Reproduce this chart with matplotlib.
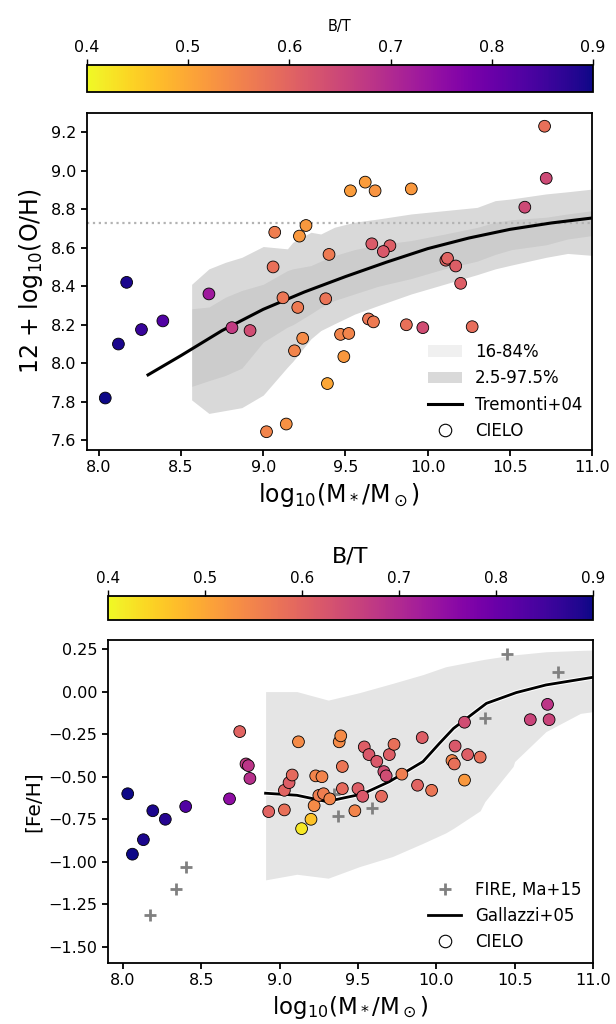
import numpy as np
import matplotlib
matplotlib.use('Agg')
import matplotlib.pyplot as plt
from matplotlib.lines import Line2D
from matplotlib.patches import Patch
import matplotlib.colors as mcolors

# ---- top panel: gas-phase oxygen abundance ----
oh_mass = [10.71, 10.72, 10.59, 9.62, 9.53, 9.68, 9.90, 9.26, 9.07, 9.22,
           9.66, 9.77, 9.73, 9.40, 10.11, 10.12, 10.17, 10.20, 9.06, 8.17,
           8.67, 9.12, 9.38, 9.21, 8.39, 8.26, 8.81, 8.92, 9.64, 9.67,
           9.87, 9.97, 10.27, 9.47, 9.52, 9.24, 8.12, 9.19, 9.49, 9.39,
           8.04, 9.14, 9.02]
oh_val = [9.23, 8.96, 8.81, 8.94, 8.895, 8.895, 8.905, 8.715, 8.68, 8.66,
          8.62, 8.61, 8.58, 8.565, 8.535, 8.545, 8.505, 8.415, 8.50, 8.42,
          8.36, 8.34, 8.335, 8.29, 8.22, 8.175, 8.185, 8.17, 8.23, 8.215,
          8.20, 8.185, 8.19, 8.15, 8.155, 8.13, 8.10, 8.065, 8.035, 7.895,
          7.82, 7.685, 7.645]
oh_bt = [0.58, 0.645, 0.645, 0.515, 0.515, 0.525, 0.52, 0.52, 0.56, 0.52,
         0.615, 0.61, 0.62, 0.565, 0.6, 0.6, 0.61, 0.61, 0.58, 0.89,
         0.73, 0.57, 0.575, 0.565, 0.83, 0.86, 0.67, 0.64, 0.57, 0.565,
         0.58, 0.64, 0.585, 0.55, 0.55, 0.54, 0.89, 0.55, 0.52, 0.50,
         0.9, 0.53, 0.55]

# Tremonti+04 relation
trem_mass = [8.3, 8.5, 8.75, 9.0, 9.25, 9.5, 9.75, 10.0, 10.25, 10.5, 10.75, 11.0]
trem_oh = [7.94, 8.04, 8.17, 8.28, 8.37, 8.45, 8.525, 8.595, 8.65, 8.695, 8.728, 8.754]

# SDSS percentile bands
band_mass = [8.565, 8.67, 8.77, 8.87, 9.0, 9.147, 9.18, 9.29, 9.35, 9.433,
             9.555, 9.7, 9.9, 10.1, 10.3, 10.41, 10.51, 10.72, 10.85, 11.0]
p025 = [7.81, 7.74, 7.755, 7.77, 7.835, 7.98, 8.01, 8.127, 8.17, 8.205,
        8.255, 8.3, 8.36, 8.41, 8.46, 8.49, 8.51, 8.55, 8.57, 8.56]
p975 = [8.41, 8.49, 8.524, 8.55, 8.606, 8.594, 8.628, 8.68, 8.671, 8.706,
        8.732, 8.749, 8.775, 8.792, 8.809, 8.844, 8.853, 8.879, 8.89, 8.904]
p16 = [7.88, 7.91, 7.937, 7.975, 8.11, 8.188, 8.2, 8.257, 8.29, 8.326,
       8.36, 8.40, 8.44, 8.49, 8.53, 8.565, 8.59, 8.615, 8.645, 8.663]
p84 = [8.283, 8.292, 8.343, 8.378, 8.41, 8.481, 8.49, 8.507, 8.53, 8.559,
       8.59, 8.615, 8.637, 8.67, 8.705, 8.732, 8.745, 8.758, 8.775, 8.792]
solar_oh = 8.73

# ---- bottom panel: stellar [Fe/H] ----
fe_mass = [8.03, 8.19, 8.27, 8.40, 8.13, 8.06, 8.68, 8.745, 8.785, 8.80,
           8.81, 8.93, 9.03, 9.14, 9.20, 9.12, 9.03, 9.06, 9.08, 9.23,
           9.27, 9.22, 9.25, 9.28, 9.32, 9.38, 9.39, 9.40, 9.40, 9.48,
           9.50, 9.53, 9.54, 9.57, 9.62, 9.65, 9.665, 9.68, 9.70, 9.73,
           9.78, 9.88, 9.91, 9.97, 10.10, 10.115, 10.12, 10.18, 10.18, 10.20,
           10.28, 10.60, 10.71, 10.72]
fe_val = [-0.60, -0.70, -0.75, -0.675, -0.87, -0.955, -0.63, -0.235, -0.425, -0.435,
          -0.51, -0.705, -0.695, -0.805, -0.75, -0.295, -0.58, -0.535, -0.49, -0.495,
          -0.50, -0.67, -0.61, -0.60, -0.63, -0.295, -0.26, -0.44, -0.57, -0.70,
          -0.57, -0.615, -0.325, -0.37, -0.41, -0.615, -0.47, -0.495, -0.37, -0.31,
          -0.485, -0.55, -0.27, -0.58, -0.405, -0.425, -0.32, -0.52, -0.18, -0.37,
          -0.385, -0.165, -0.075, -0.165]
fe_bt = [0.9, 0.89, 0.88, 0.83, 0.89, 0.9, 0.75, 0.6, 0.67, 0.68,
         0.69, 0.6, 0.58, 0.42, 0.465, 0.54, 0.6, 0.61, 0.59, 0.55,
         0.55, 0.54, 0.56, 0.56, 0.55, 0.54, 0.54, 0.57, 0.59, 0.55,
         0.61, 0.62, 0.61, 0.62, 0.62, 0.59, 0.64, 0.64, 0.61, 0.58,
         0.56, 0.6, 0.61, 0.57, 0.55, 0.58, 0.62, 0.52, 0.64, 0.61,
         0.58, 0.655, 0.68, 0.655]

# FIRE, Ma+15
fire_mass = [8.17, 8.34, 8.40, 9.35, 9.37, 9.59, 10.31, 10.45, 10.78]
fire_fe = [-1.31, -1.16, -1.03, -0.60, -0.73, -0.685, -0.153, 0.223, 0.117]

# Gallazzi+05 median and band
gal_mass = [8.91, 9.11, 9.30, 9.53, 9.70, 9.915, 10.02, 10.11, 10.32, 10.51, 10.70, 11.0]
gal_fe = [-0.597, -0.609, -0.646, -0.601, -0.529, -0.411, -0.304, -0.216, -0.069, -0.006, 0.039, 0.084]
galb_mass = [8.91, 9.11, 9.31, 9.51, 9.72, 9.915, 10.06, 10.11, 10.28, 10.31, 10.49, 10.50, 10.70, 10.92, 11.0]
galb_lo = [-1.106, -1.073, -1.096, -1.028, -0.969, -0.891, -0.83, -0.803, -0.70, -0.646, -0.44, -0.411, -0.235, -0.128, -0.118]
galb_hi = [0.0, 0.0, -0.05, -0.006, 0.048, 0.10, 0.146, 0.155, 0.185, 0.19, 0.215, 0.216, 0.234, 0.242, 0.244]

bt_ticks = [0.4, 0.5, 0.6, 0.7, 0.8, 0.9]

cmap = plt.cm.plasma_r
norm = mcolors.Normalize(vmin=0.4, vmax=0.9)

fig = plt.figure(figsize=(6.16, 10.24), dpi=100)


def style_axes(ax):
    for s in ax.spines.values():
        s.set_linewidth(1.3)
    ax.tick_params(width=1.3, length=4, labelsize=11.5)


def add_cbar(rect, sc, label_size, tick_size):
    cax = fig.add_axes(rect)
    cb = fig.colorbar(sc, cax=cax, orientation='horizontal', ticks=bt_ticks)
    cax.xaxis.set_ticks_position('top')
    cax.xaxis.set_label_position('top')
    cb.set_label('B/T', fontsize=label_size, labelpad=6)
    cax.tick_params(labelsize=tick_size, width=1.0, length=4)
    cb.outline.set_linewidth(1.3)
    return cb


# ---- top panel ----
ax1 = fig.add_axes([0.1407, 0.5605, 0.8208, 0.3294])
ax1.fill_between(band_mass, p16, p84, color='k', alpha=0.06, lw=0)
ax1.fill_between(band_mass, p025, p975, color='k', alpha=0.15, lw=0)
ax1.axhline(solar_oh, color='0.7', ls=':', lw=1.6)
ax1.plot(trem_mass, trem_oh, color='k', lw=2.2)
sc1 = ax1.scatter(oh_mass, oh_val, c=oh_bt, cmap=cmap, norm=norm, s=72,
                  edgecolors='k', linewidths=0.6, zorder=3)
ax1.set_xlim(7.927, 11.0)
ax1.set_ylim(7.55, 9.30)
ax1.set_yticks([7.6, 7.8, 8.0, 8.2, 8.4, 8.6, 8.8, 9.0, 9.2])
ax1.set_xticks([8.0, 8.5, 9.0, 9.5, 10.0, 10.5, 11.0])
ax1.set_xlabel(r'log$_{10}$(M$_*$/M$_\odot$)', fontsize=17)
ax1.set_ylabel(r'12 + log$_{10}$(O/H)', fontsize=17)
style_axes(ax1)

h1 = [Patch(facecolor='k', alpha=0.06, lw=0),
      Patch(facecolor='k', alpha=0.15, lw=0),
      Line2D([], [], color='k', lw=2.2),
      Line2D([], [], ls='', marker='o', mfc='w', mec='k', ms=9, mew=0.8)]
ax1.legend(h1, ['16-84%', '2.5-97.5%', 'Tremonti+04', 'CIELO'],
           loc='lower right', frameon=False, fontsize=12, borderaxespad=0.2)

add_cbar([0.1412, 0.9102, 0.8214, 0.0264], sc1, 10.5, 11.5)

# ---- bottom panel ----
ax2 = fig.add_axes([0.1753, 0.0596, 0.7873, 0.3154])
ax2.fill_between(galb_mass, galb_lo, galb_hi, color='k', alpha=0.1, lw=0)
ax2.plot(fire_mass, fire_fe, ls='', marker='+', color='grey', ms=9, mew=2)
ax2.plot(gal_mass, gal_fe, color='w', lw=3.5)
ax2.plot(gal_mass, gal_fe, color='k', lw=2)
sc2 = ax2.scatter(fe_mass, fe_val, c=fe_bt, cmap=cmap, norm=norm, s=72,
                  edgecolors='k', linewidths=0.6, zorder=3)
ax2.set_xlim(7.904, 11.0)
ax2.set_ylim(-1.594, 0.303)
ax2.set_yticks([-1.5, -1.25, -1.0, -0.75, -0.5, -0.25, 0.0, 0.25])
ax2.set_xticks([8.0, 8.5, 9.0, 9.5, 10.0, 10.5, 11.0])
ax2.set_xlabel(r'log$_{10}$(M$_*$/M$_\odot$)', fontsize=16.5)
ax2.set_ylabel('[Fe/H]', fontsize=14.5)
style_axes(ax2)

h2 = [Line2D([], [], ls='', marker='+', color='grey', ms=9, mew=2),
      Line2D([], [], color='k', lw=2),
      Line2D([], [], ls='', marker='o', mfc='w', mec='k', ms=9, mew=0.8)]
ax2.legend(h2, ['FIRE, Ma+15', 'Gallazzi+05', 'CIELO'],
           loc='lower right', frameon=False, fontsize=12, borderaxespad=0.3)

add_cbar([0.1753, 0.3945, 0.7873, 0.0234], sc2, 16, 11)

fig.savefig('out.png', dpi=100)
